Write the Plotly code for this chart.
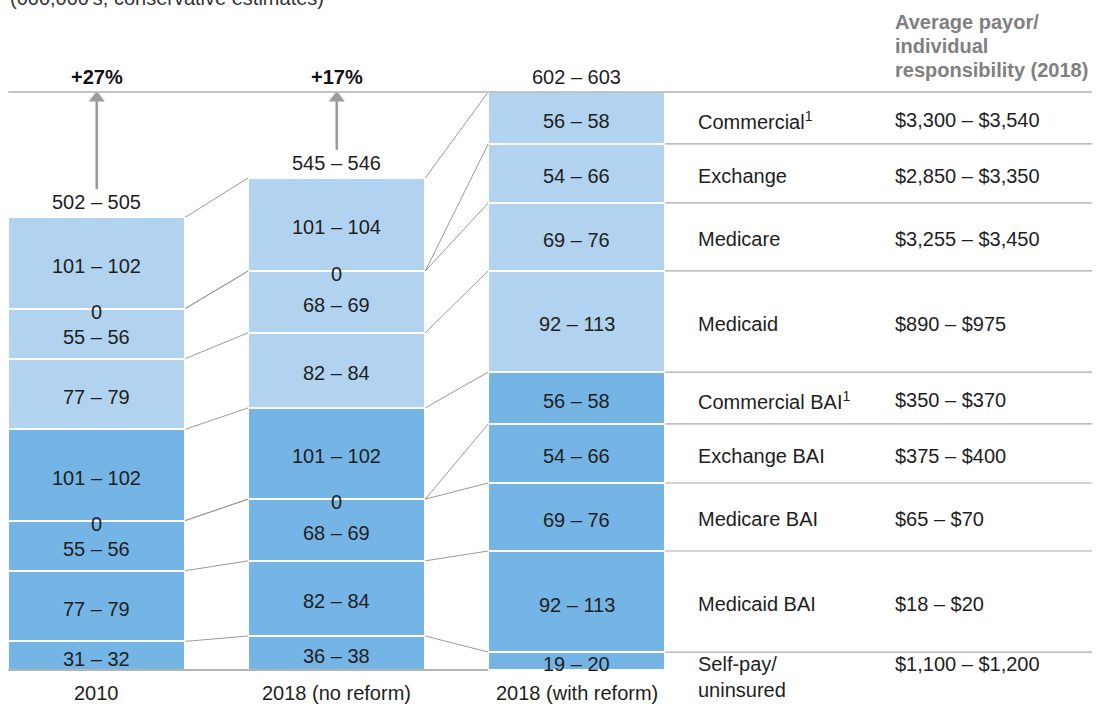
import plotly.graph_objects as go

# ---------------- data ----------------
categories = ["2010", "2018 (no reform)", "2018 (with reform)"]
segment_names = ["Commercial", "Exchange", "Medicare", "Medicaid",
                 "Commercial BAI", "Exchange BAI", "Medicare BAI", "Medicaid BAI",
                 "Self-pay/uninsured"]
low_2010 = [101, 0, 55, 77, 101, 0, 55, 77, 31]
high_2010 = [102, 0, 56, 79, 102, 0, 56, 79, 32]
low_2018_no_reform = [101, 0, 68, 82, 101, 0, 68, 82, 36]
high_2018_no_reform = [104, 0, 69, 84, 102, 0, 69, 84, 38]
low_2018_reform = [56, 54, 69, 92, 56, 54, 69, 92, 19]
high_2018_reform = [58, 66, 76, 113, 58, 66, 76, 113, 20]
total_labels = ["502 – 505", "545 – 546", "602 – 603"]
growth_labels = ["+27%", "+17%"]
row_labels = ["Commercial<sup>1</sup>", "Exchange", "Medicare", "Medicaid",
              "Commercial BAI<sup>1</sup>", "Exchange BAI", "Medicare BAI",
              "Medicaid BAI", "Self-pay/<br>uninsured"]
responsibility = ["$3,300 – $3,540", "$2,850 – $3,350", "$3,255 – $3,450",
                  "$890 – $975", "$350 – $370", "$375 – $400", "$65 – $70",
                  "$18 – $20", "$1,100 – $1,200"]
subtitle = "(000,000's, conservative estimates)"
header_lines = ["Average payor/", "individual", "responsibility (2018)"]

# ---------------- style ----------------
LIGHT = "#b1d3ef"
DARK = "#75b5e5"
TXT = "#1e1e1e"
GREY = "#9a9a9a"
FONT = "Liberation Sans, Arial, sans-serif"
FS = 20
BAR_W = 0.7375
N_LIGHT = 4
PX = 0.8947  # pixels per data unit (y)

lows = [low_2010, low_2018_no_reform, low_2018_reform]
highs = [high_2010, high_2018_no_reform, high_2018_reform]
n = len(segment_names)

fig = go.Figure()
# stack from bottom: add bottom segment first
for i in reversed(range(n)):
    fig.add_trace(go.Bar(
        x=categories,
        y=[h[i] for h in highs],
        name=segment_names[i],
        width=BAR_W,
        marker=dict(color=LIGHT if i < N_LIGHT else DARK,
                    line=dict(color="white", width=2)),
        showlegend=False,
        hoverinfo="skip",
    ))

# tops of each segment (top-down order)
tops = [[sum(h[i:]) for i in range(n)] for h in highs]
max_top = max(t[0] for t in tops)

# growth arrows (shaft + triangular head)
for k in range(len(growth_labels)):
    tail = tops[k][0] + 28 / PX
    head_c = max_top - 6 / PX
    fig.add_trace(go.Scatter(
        x=[categories[k], categories[k]], y=[tail, head_c],
        mode="lines", line=dict(color="#9c9c9c", width=2.6),
        showlegend=False, hoverinfo="skip"))
    fig.add_trace(go.Scatter(
        x=[categories[k]], y=[head_c],
        mode="markers", marker=dict(symbol="triangle-up", size=14, color="#9c9c9c",
                                    line=dict(width=0)),
        showlegend=False, hoverinfo="skip"))

shapes = []
annotations = []

# connectors between bars
for k in range(len(categories) - 1):
    for i in range(n):
        shapes.append(dict(type="line", xref="x", yref="y",
                           x0=k + BAR_W / 2, y0=tops[k][i],
                           x1=k + 1 - BAR_W / 2, y1=tops[k + 1][i],
                           line=dict(color=GREY, width=1)))

TABLE_RIGHT = 4.147
last = len(categories) - 1

# top rule
shapes.append(dict(type="line", xref="x", yref="y", x0=-BAR_W / 2, x1=TABLE_RIGHT,
                   y0=max_top, y1=max_top, line=dict(color="#c4c4c4", width=2),
                   layer="above"))
# baseline
shapes.append(dict(type="line", xref="x", yref="y", x0=-BAR_W / 2, x1=last - BAR_W / 2,
                   y0=0, y1=0, line=dict(color=GREY, width=1.5)))
# table rules
for i in range(1, n):
    shapes.append(dict(type="line", xref="x", yref="y", x0=last + BAR_W / 2, x1=TABLE_RIGHT,
                       y0=tops[last][i], y1=tops[last][i],
                       line=dict(color="#a8a8a8", width=1.2)))

# segment labels
for k in range(len(categories)):
    for i in range(n):
        lo, hi = lows[k][i], highs[k][i]
        if hi == 0:
            txt, y = "0", tops[k][i]
        else:
            txt, y = f"{lo} – {hi}", tops[k][i] - hi / 2
        annotations.append(dict(x=k, y=y, xref="x", yref="y", text=txt, showarrow=False,
                                yshift=-3, font=dict(size=FS, color=TXT, family=FONT)))
    # totals
    annotations.append(dict(x=k, y=tops[k][0], xref="x", yref="y", text=total_labels[k],
                            showarrow=False, yshift=15,
                            font=dict(size=FS, color=TXT, family=FONT)))
    # category labels
    annotations.append(dict(x=k, y=0, xref="x", yref="y", text=categories[k],
                            showarrow=False, yshift=-23,
                            font=dict(size=FS, color=TXT, family=FONT)))

# growth labels
for k, g in enumerate(growth_labels):
    annotations.append(dict(x=k, y=max_top, xref="x", yref="y", text=f"<b>{g}</b>",
                            showarrow=False, yshift=15,
                            font=dict(size=FS, color="#111111", family=FONT)))

# right-hand table
X_NAME = 2.497
X_VAL = 3.318
for i in range(n):
    if i == n - 1:
        y = tops[last][i]
        ya, ys = "top", 1
    else:
        y = tops[last][i] - highs[last][i] / 2
        ya, ys = "middle", -2.5
    annotations.append(dict(x=X_NAME, y=y, xref="x", yref="y", text=row_labels[i],
                            showarrow=False, xanchor="left", yanchor=ya, yshift=ys, align="left",
                            font=dict(size=FS, color=TXT, family=FONT)))
    annotations.append(dict(x=X_VAL, y=y, xref="x", yref="y", text=responsibility[i],
                            showarrow=False, xanchor="left", yanchor=ya, yshift=ys, align="left",
                            font=dict(size=FS, color=TXT, family=FONT)))

# header (three lines, 24 px apart)
for j, line in enumerate(header_lines):
    annotations.append(dict(x=X_VAL, y=max_top, xref="x", yref="y", text=f"<b>{line}</b>",
                            showarrow=False, xanchor="left", yanchor="middle",
                            yshift=22 + 24 * (len(header_lines) - 1 - j),
                            align="left", font=dict(size=FS, color="#808080", family=FONT)))
annotations.append(dict(x=8 / 1097, y=1, xref="paper", yref="paper", text=subtitle,
                        showarrow=False, xanchor="left", yanchor="bottom", yshift=-11,
                        align="left", font=dict(size=FS, color="#333333", family=FONT)))

fig.update_layout(
    width=1097, height=706,
    margin=dict(l=0, r=0, t=0, b=0),
    paper_bgcolor="white", plot_bgcolor="white",
    barmode="stack", bargap=0,
    xaxis=dict(visible=False, range=[-0.4033, 4.1675], fixedrange=True),
    yaxis=dict(visible=False, range=[-40.24, 748.8], fixedrange=True),
    shapes=shapes, annotations=annotations,
    hovermode=False, showlegend=False,
)

fig.write_html("out.html")
